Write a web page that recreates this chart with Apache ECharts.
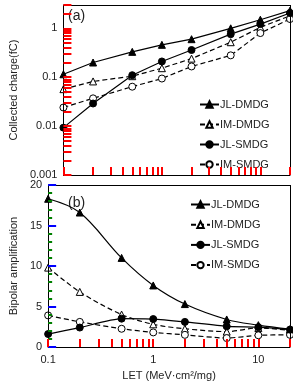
<!DOCTYPE html>
<html>
<head>
<meta charset="utf-8">
<script src="https://cdn.jsdelivr.net/npm/echarts@6/dist/echarts.min.js"></script>
<style>html,body{margin:0;padding:0;background:#fff}#c{width:293px;height:382px}</style>
</head>
<body>
<div id="c"></div>
<script>
// LET values (MeV·cm²/mg)
const LET = [0.1, 0.2, 0.5, 1, 2, 5, 10, 20];
// (a) Collected charge (fC)
const chargeJLDMDG = [0.115, 0.20, 0.33, 0.46, 0.60, 1.0, 1.5, 2.3];
const chargeIMDMDG = [0.057, 0.082, 0.105, 0.153, 0.24, 0.52, 1.05, 1.8];
const chargeJLSMDG = [0.0093, 0.029, 0.11, 0.21, 0.36, 0.76, 1.22, 2.06];
const chargeIMSMDG = [0.024, 0.037, 0.064, 0.094, 0.166, 0.28, 0.8, 1.55];
// (b) Bipolar amplification
const ampJLDMDG = [18.3, 16.6, 11.0, 7.6, 5.3, 3.4, 2.7, 2.2];
const ampIMDMDG = [9.8, 6.8, 4.0, 2.8, 2.25, 1.9, 2.35, 2.05];
const ampJLSMDG = [1.6, 2.4, 3.5, 3.45, 3.1, 2.55, 2.45, 2.15];
const ampIMSMDG = [3.9, 3.1, 2.25, 1.8, 1.5, 1.1, 1.45, 1.5];
// tick labels / tick positions
const xLabelTicks = [0.1, 1, 10];
const xAllTicks = [0.1,0.2,0.3,0.4,0.5,0.6,0.7,0.8,0.9,1,2,3,4,5,6,7,8,9,10,20];
const yaLabelTicks = [0.001, 0.01, 0.1, 1];
const yaAllTicks = [0.001,0.002,0.003,0.004,0.005,0.006,0.007,0.008,0.009,
  0.01,0.02,0.03,0.04,0.05,0.06,0.07,0.08,0.09,
  0.1,0.2,0.3,0.4,0.5,0.6,0.7,0.8,0.9,1,2,3];
const names = ['JL-DMDG', 'IM-DMDG', 'JL-SMDG', 'IM-SMDG'];
const xMax = 20, yaMax = 3, ybMax = 20;

const chart = echarts.init(document.getElementById('c'), null, {renderer: 'canvas'});
const font = 'Liberation Sans, Arial, sans-serif';
const pairs = arr => LET.map((x, i) => [x, arr[i]]);

const styles = [
  {symbol: 'triangle', fill: '#000', type: 'solid'},
  {symbol: 'triangle', fill: '#fff', type: [5, 3]},
  {symbol: 'circle', fill: '#000', type: 'solid'},
  {symbol: 'circle', fill: '#fff', type: [5, 3]}
];
function mk(name, idx, data, xi, yi, smooth, frameY) {
  const s = styles[idx];
  const ser = {
    name, type: 'line', xAxisIndex: xi, yAxisIndex: yi, data: pairs(data),
    symbol: s.symbol, symbolSize: 7, smooth: smooth || false,
    lineStyle: {color: '#000', width: 1.2, type: s.type},
    itemStyle: {color: s.fill, borderColor: '#000', borderWidth: 1},
    emphasis: {disabled: true}, animation: false, z: idx === 0 || idx === 2 ? 3 : 2
  };
  if (frameY !== undefined) {
    ser.markLine = {silent: true, symbol: 'none', animation: false, label: {show: false},
      lineStyle: {color: '#000', width: 1, type: 'solid'},
      data: [{xAxis: xMax}, {yAxis: frameY}]};
  }
  return ser;
}
const lab = {fontFamily: font, fontSize: 11, color: '#222'};
function decadeFmt(v) {
  const l = Math.log10(v);
  return Math.abs(l - Math.round(l)) < 1e-6 ? String(+v.toPrecision(3)) : '';
}
const tick = vals => ({show: true, inside: true, length: 8, lineStyle: {color: 'red', width: 2},
  customValues: vals});

const option = {
  animation: false,
  grid: [
    {left: 43, right: 3, top: 5, height: 170, show: false},
    {left: 43, right: 3, top: 185, height: 167, show: false}
  ],
  xAxis: [
    {type: 'log', gridIndex: 0, position: 'bottom', min: 0.1, max: xMax, z: 10,
     axisLine: {show: true, onZero: false, lineStyle: {color: '#000'}},
     axisTick: tick(xAllTicks), axisLabel: {show: false}, splitLine: {show: false}},
    {type: 'log', gridIndex: 1, position: 'bottom', min: 0.1, max: xMax, z: 10,
     axisLine: {show: true, onZero: false, lineStyle: {color: '#000'}},
     axisTick: tick(xAllTicks),
     axisLabel: Object.assign({customValues: xLabelTicks, margin: 7, formatter: decadeFmt}, lab),
     splitLine: {show: false},
     name: 'LET (MeV·cm²/mg)', nameLocation: 'middle', nameGap: 23,
     nameTextStyle: {fontFamily: font, fontSize: 11, color: '#222'}}
  ],
  yAxis: [
    {type: 'log', gridIndex: 0, position: 'left', min: 0.001, max: yaMax, z: 10,
     axisLine: {show: true, onZero: false, lineStyle: {color: '#000'}},
     axisTick: tick(yaAllTicks),
     axisLabel: Object.assign({customValues: yaLabelTicks, margin: 6, formatter: decadeFmt}, lab),
     splitLine: {show: false},
     name: 'Collected charge(fC)', nameLocation: 'middle', nameGap: 31,
     nameTextStyle: {fontFamily: font, fontSize: 11, color: '#222'}},
    {type: 'value', gridIndex: 1, position: 'left', min: 0, max: ybMax, interval: 5, z: 10,
     axisLine: {show: true, onZero: false, lineStyle: {color: '#000'}},
     axisTick: {show: true, inside: true, length: 8, lineStyle: {color: 'blue', width: 2}},
     minorTick: {show: true, splitNumber: 5, length: 4, lineStyle: {color: 'green', width: 2}},
     axisLabel: Object.assign({margin: 6}, lab),
     splitLine: {show: false},
     name: 'Bipolar amplification', nameLocation: 'middle', nameGap: 27,
     nameTextStyle: {fontFamily: font, fontSize: 11, color: '#222'}}
  ],
  legend: [
    {orient: 'vertical', left: 194, top: 94, itemWidth: 19, itemHeight: 8, itemGap: 9,
     data: names, selectedMode: false,
     textStyle: {fontFamily: font, fontSize: 11, color: '#222', padding: [0, 0, 0, -4]}},
    {orient: 'vertical', left: 185, top: 194, itemWidth: 19, itemHeight: 8, itemGap: 9.2,
     data: names, selectedMode: false,
     textStyle: {fontFamily: font, fontSize: 11, color: '#222', padding: [0, 0, 0, -4]}}
  ],
  graphic: [
    {type: 'text', left: 68, top: 9, style: {text: '(a)', font: '14px ' + font, fill: '#222'}},
    {type: 'text', left: 68, top: 196, style: {text: '(b)', font: '14px ' + font, fill: '#222'}}
  ],
  series: [
    mk(names[0], 0, chargeJLDMDG, 0, 0, false, yaMax),
    mk(names[1], 1, chargeIMDMDG, 0, 0),
    mk(names[2], 2, chargeJLSMDG, 0, 0),
    mk(names[3], 3, chargeIMSMDG, 0, 0),
    mk(names[0], 0, ampJLDMDG, 1, 1, 0.35, ybMax),
    mk(names[1], 1, ampIMDMDG, 1, 1, 0.3),
    mk(names[2], 2, ampJLSMDG, 1, 1, 0.2),
    mk(names[3], 3, ampIMSMDG, 1, 1, 0.2)
  ]
};
chart.setOption(option);
</script>
</body>
</html>
